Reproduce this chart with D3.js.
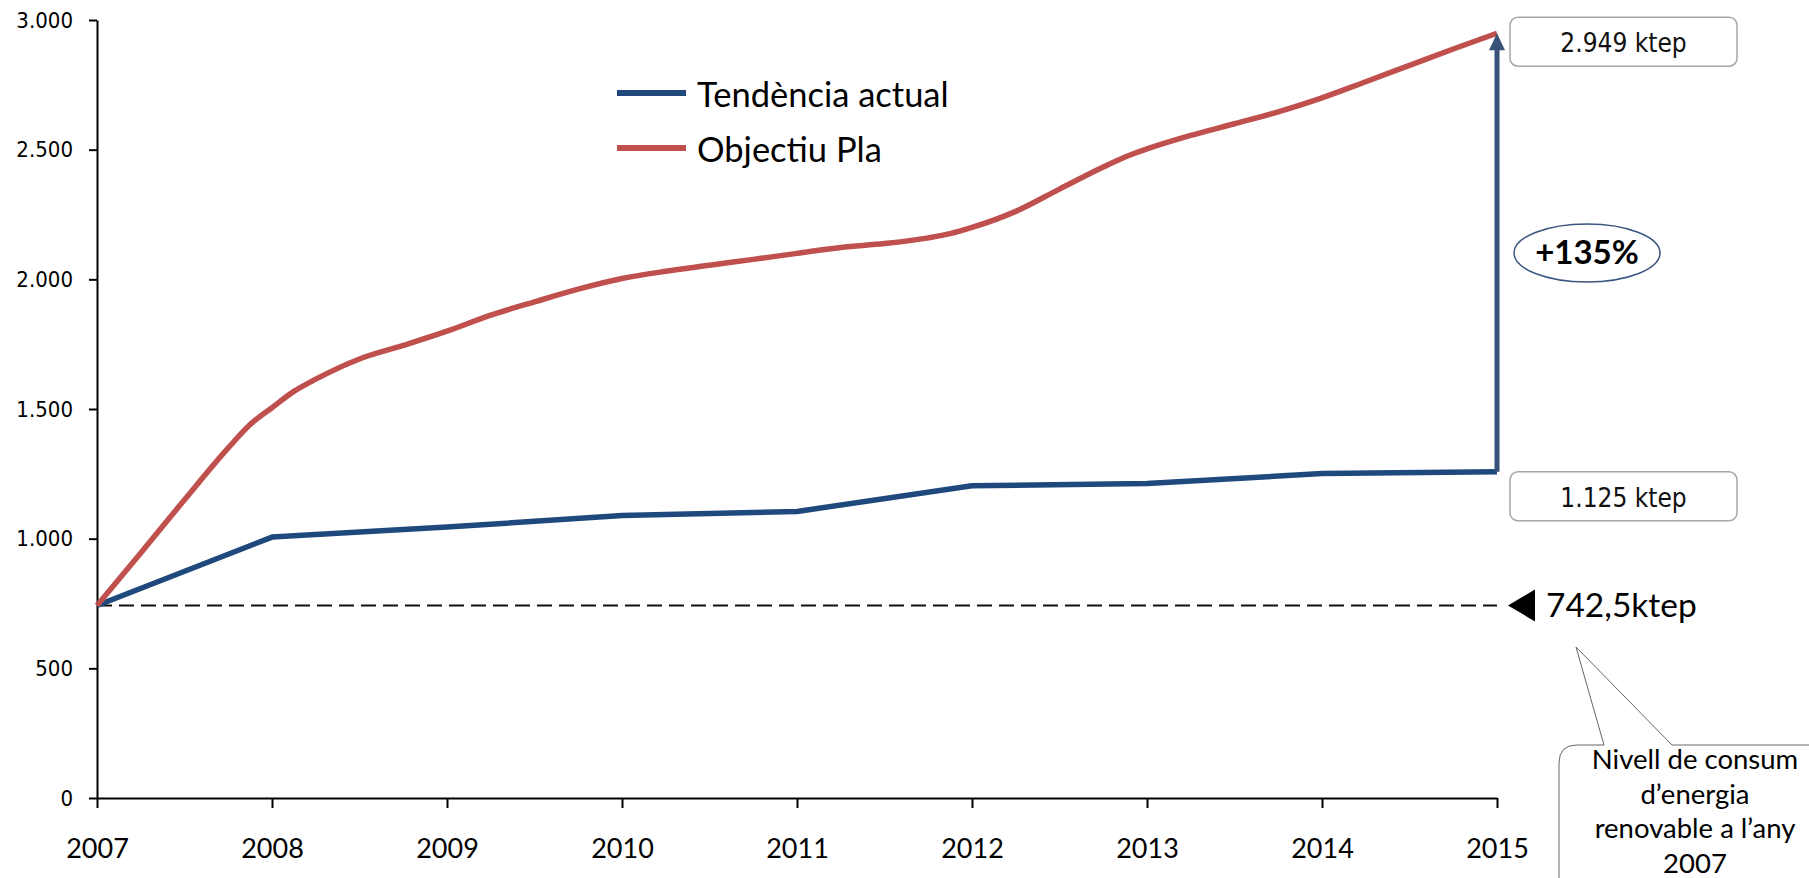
<!DOCTYPE html>
<html>
<head>
<meta charset="utf-8">
<script src="https://cdn.jsdelivr.net/npm/d3@7"></script>
<style>
  body { margin: 0; background: #fff; }
  .cond { font-family: "DejaVu Sans Condensed", "DejaVu Sans", sans-serif; font-stretch: condensed; }
  .cal { font-family: Lato, "Open Sans", sans-serif; }
</style>
</head>
<body>
<div id="chart"></div>
<script>
// years on the axis
var years = [2007, 2008, 2009, 2010, 2011, 2012, 2013, 2014, 2015];
var yTicks = [0, 500, 1000, 1500, 2000, 2500, 3000];

// Tendència actual (one value per year)
var tendencia = [742.5, 1006, 1045, 1089, 1105, 1204, 1213, 1251, 1258];

// Objectiu Pla (finer steps)
var objectiuYears = [2007, 2007.25, 2007.5, 2007.75, 2007.875, 2008, 2008.125, 2008.25, 2008.5, 2008.75,
    2009, 2009.25, 2009.5, 2009.75, 2010, 2010.25, 2010.5, 2010.75, 2011, 2011.25, 2011.5, 2011.75,
    2011.875, 2012, 2012.25, 2012.5, 2012.75, 2012.875, 2013, 2013.25, 2013.5, 2013.75, 2014,
    2014.25, 2014.5, 2014.75, 2015];
var objectiu = [742.5, 945, 1150, 1350, 1440, 1505, 1568, 1615, 1693, 1745,
    1800, 1862, 1913, 1962, 2003, 2031, 2054, 2077, 2100, 2123, 2138, 2160,
    2176, 2200, 2262, 2348, 2433, 2472, 2503, 2555, 2600, 2646, 2700,
    2762, 2825, 2888, 2949];

var seriesNames = ["Tendència actual", "Objectiu Pla"];
var seriesColors = ["#1F497D", "#C0504D"];
var baseline = 742.5;

var width = 1809, height = 878;
var svg = d3.select("#chart").append("svg")
    .attr("width", width)
    .attr("height", height);

var x = d3.scaleLinear().domain([2007, 2015]).range([97, 1497]);
var y = d3.scaleLinear().domain([0, 3000]).range([798, 20]);

// axes
var yAxis = svg.append("g")
    .attr("transform", "translate(97,0)")
    .call(d3.axisLeft(y).tickValues(yTicks).tickSize(8).tickSizeOuter(0).tickPadding(16)
        .tickFormat(function(d){ return d3.format(",")(d).replace(/,/g, "."); }));
yAxis.selectAll("text").attr("class", "cond").style("font-size", "22px").attr("fill", "#000");

var xAxis = svg.append("g")
    .attr("transform", "translate(0,798)")
    .call(d3.axisBottom(x).tickValues(years).tickSize(10).tickSizeOuter(0)
        .tickFormat(d3.format("d")));
xAxis.selectAll("text").attr("class", "cal").style("font-size", "27px")
    .attr("y", 60).attr("dy", 0).attr("fill", "#000");

svg.selectAll(".domain, .tick line").attr("stroke", "#000").attr("stroke-width", 2);

// dashed 2007 level
svg.append("line")
    .attr("x1", x(2007)).attr("x2", x(2015))
    .attr("y1", y(baseline)).attr("y2", y(baseline))
    .attr("stroke", "#111").attr("stroke-width", 2)
    .attr("stroke-dasharray", "15,7");

// series
var blueLine = d3.line()
    .x(function(d, i){ return x(years[i]); })
    .y(function(d){ return y(d); });

svg.append("path")
    .datum(tendencia)
    .attr("d", blueLine)
    .attr("fill", "none")
    .attr("stroke", seriesColors[0])
    .attr("stroke-width", 5.5)
    .attr("stroke-linejoin", "round");

var redLine = d3.line()
    .x(function(d, i){ return x(objectiuYears[i]); })
    .y(function(d){ return y(d); })
    .curve(d3.curveMonotoneX);

svg.append("path")
    .datum(objectiu)
    .attr("d", redLine)
    .attr("fill", "none")
    .attr("stroke", seriesColors[1])
    .attr("stroke-width", 5.5)
    .attr("stroke-linejoin", "round");

// arrow from current trend to target
var ax = x(2015);
var yTop = y(objectiu[objectiu.length - 1]);
var yBot = y(tendencia[tendencia.length - 1]);
svg.append("line")
    .attr("x1", ax).attr("x2", ax)
    .attr("y1", yBot).attr("y2", yTop + 14)
    .attr("stroke", "#375178").attr("stroke-width", 5);
svg.append("path")
    .attr("d", "M" + ax + "," + yTop + "L" + (ax + 8) + "," + (yTop + 17) + "L" + (ax - 8) + "," + (yTop + 17) + "Z")
    .attr("fill", "#375178");

// legend
var legend = svg.append("g").attr("transform", "translate(617,93)");
seriesNames.forEach(function(name, i){
    var g = legend.append("g").attr("transform", "translate(0," + (i * 55) + ")");
    g.append("line").attr("x1", 0).attr("x2", 69).attr("y1", 0).attr("y2", 0)
        .attr("stroke", seriesColors[i]).attr("stroke-width", 6);
    g.append("text").attr("class", "cal").attr("x", 80).attr("y", 14)
        .style("font-size", "34.5px").attr("fill", "#000").text(name);
});

// value boxes
function valueBox(cy, label){
    var g = svg.append("g").attr("transform", "translate(" + (ax + 13) + "," + (cy - 25) + ")");
    g.append("rect").attr("width", 227).attr("height", 49).attr("rx", 8)
        .attr("fill", "#fff").attr("stroke", "#a6a6a6").attr("stroke-width", 1.5);
    g.append("text").attr("class", "cond").attr("x", 113.5).attr("y", 35)
        .attr("text-anchor", "middle").style("font-size", "26px").attr("fill", "#111").text(label);
}
valueBox(yTop + 9, "2.949 ktep");
valueBox(yBot + 25, "1.125 ktep");

// +135% ellipse
svg.append("ellipse").attr("cx", 1587).attr("cy", 253).attr("rx", 73).attr("ry", 29)
    .attr("fill", "#fff").attr("stroke", "#3a5580").attr("stroke-width", 1.5);
svg.append("text").attr("class", "cal").attr("x", 1587).attr("y", 264)
    .attr("text-anchor", "middle").style("font-size", "33px").style("font-weight", "bold")
    .attr("fill", "#000").text("+135%");

// 742,5 ktep marker
var by = y(baseline);
svg.append("path")
    .attr("d", "M" + (ax + 11) + "," + by + "L" + (ax + 38) + "," + (by - 16) + "L" + (ax + 38) + "," + (by + 16) + "Z")
    .attr("fill", "#000");
svg.append("text").attr("class", "cal").attr("x", ax + 49).attr("y", by + 12)
    .style("font-size", "33.5px").attr("fill", "#000").text("742,5ktep");

// callout
var callout = "M1559,763 Q1559,745 1577,745 L1604,745 L1576,647 L1672,745 L1840,745 L1840,895 L1577,895 Q1559,895 1559,877 Z";
svg.append("path").attr("d", callout)
    .attr("fill", "#fff").attr("stroke", "#666").attr("stroke-width", 1);
var calloutLines = ["Nivell de consum", "d\u2019energia", "renovable a l\u2019any", "2007"];
svg.append("g").selectAll("text").data(calloutLines).enter().append("text")
    .attr("class", "cal")
    .attr("x", 1695)
    .attr("y", function(d, i){ return 769 + i * 34.5; })
    .attr("text-anchor", "middle")
    .style("font-size", "27.5px")
    .attr("fill", "#000")
    .text(function(d){ return d; });
</script>
</body>
</html>
